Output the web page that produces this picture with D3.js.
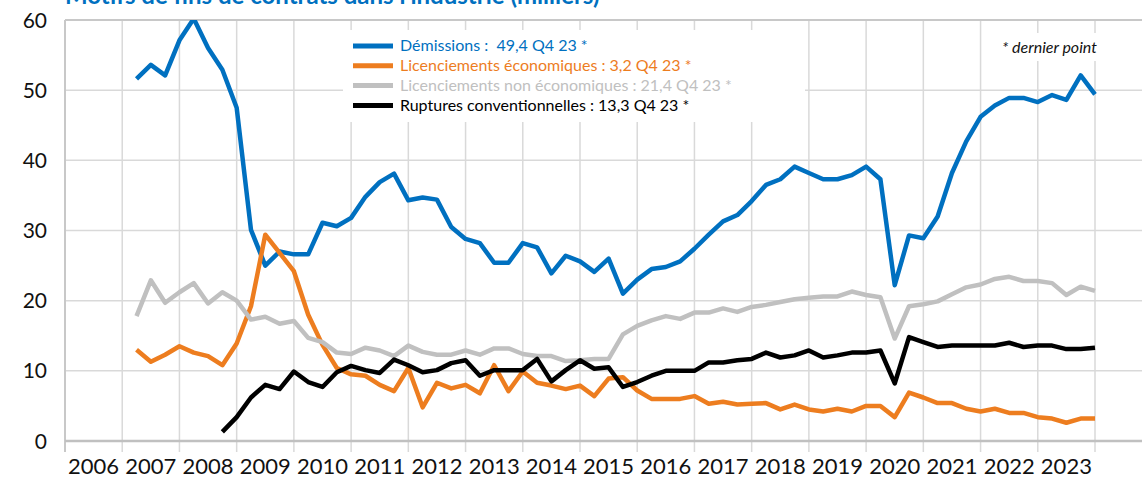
<!DOCTYPE html>
<html lang="fr">
  <head>
    <meta charset="utf-8">
    <title>Motifs de fins de contrats dans l'industrie</title>
    <script src="https://d3js.org/d3.v7.min.js"></script>
    <style type="text/css">
body,html{
    margin: 0;
    padding: 0;
    background: #fff;
    font-family: "Lato", "Open Sans", sans-serif;
  }
  .grid line{
    stroke: #d9d9d9;
    stroke-width: 1.5px;
  }
  .series{
    fill: none;
    stroke-width: 4.5px;
    stroke-linejoin: round;
  }
    </style>
  </head>
  <body>
    <script type="text/javascript">

      var w = 1142;
      var h = 478;

      // axis geometry
      var margin = {top: 20, bottom: 37, left: 65, right: 47};

      var title = "Motifs de fins de contrats dans l'industrie (milliers)";

      var years = d3.range(2006, 2024);     // x tick labels
      var yTicks = [0, 10, 20, 30, 40, 50, 60];
      var firstYear = 2007;                  // data starts 2007 Q1

      var names = [
        "Démissions :  49,4 Q4 23 *",
        "Licenciements économiques : 3,2 Q4 23 *",
        "Licenciements non économiques : 21,4 Q4 23 *",
        "Ruptures conventionnelles : 13,3 Q4 23 *"
      ];
      var colors = ["#0070c0", "#ed7d1f", "#c0c0c0", "#000000"];
      var textColors = ["#0070c0", "#ed7d1f", "#c0c0c0", "#000000"];

      // quarterly values, 2007 Q1 -> 2023 Q4
      var demissions = [
        51.6, 53.6, 52.1, 57.1,  60.2, 56.0, 52.9, 47.5,
        30.1, 25.0, 27.0, 26.6,  26.6, 31.1, 30.6, 31.8,
        34.8, 36.9, 38.1, 34.3,  34.7, 34.4, 30.5, 28.8,
        28.2, 25.4, 25.4, 28.2,  27.6, 23.9, 26.4, 25.6,
        24.1, 26.0, 21.0, 23.0,  24.5, 24.8, 25.6, 27.4,
        29.4, 31.3, 32.2, 34.2,  36.5, 37.3, 39.1, 38.2,
        37.3, 37.3, 37.9, 39.1,  37.3, 22.2, 29.3, 28.9,
        32.0, 38.2, 42.7, 46.2,  47.8, 48.9, 48.9, 48.3,
        49.3, 48.6, 52.1, 49.4
      ];
      var licEco = [
        13.0, 11.3, 12.3, 13.5,  12.6, 12.1, 10.8, 13.9,
        19.2, 29.4, 26.8, 24.2,  18.0, 13.7, 10.4, 9.5,
        9.3, 8.0, 7.1, 10.4,     4.8, 8.3, 7.5, 8.0,
        6.8, 10.8, 7.1, 9.9,     8.3, 7.9, 7.4, 7.9,
        6.4, 8.9, 9.1, 7.2,      6.0, 6.0, 6.0, 6.4,
        5.3, 5.6, 5.2, 5.3,      5.4, 4.5, 5.2, 4.5,
        4.2, 4.6, 4.2, 5.0,      5.0, 3.4, 6.9, 6.2,
        5.4, 5.4, 4.6, 4.2,      4.6, 4.0, 4.0, 3.4,
        3.2, 2.6, 3.2, 3.2
      ];
      var licNonEco = [
        17.8, 22.9, 19.7, 21.2,  22.5, 19.6, 21.2, 20.0,
        17.3, 17.7, 16.7, 17.1,  14.7, 14.1, 12.6, 12.4,
        13.3, 12.9, 12.1, 13.6,  12.7, 12.3, 12.3, 12.9,
        12.3, 13.2, 13.2, 12.4,  12.1, 12.1, 11.4, 11.5,
        11.7, 11.7, 15.2, 16.4,  17.2, 17.8, 17.4, 18.3,
        18.3, 18.9, 18.4, 19.1,  19.4, 19.8, 20.2, 20.4,
        20.6, 20.6, 21.3, 20.8,  20.5, 14.6, 19.2, 19.5,
        19.9, 20.9, 21.9, 22.3,  23.1, 23.4, 22.8, 22.8,
        22.5, 20.8, 22.0, 21.4
      ];
      var ruptures = [
        null, null, null, null,  null, null, 1.3, 3.4,
        6.2, 8.0, 7.4, 9.9,      8.4, 7.7, 9.8, 10.7,
        10.1, 9.7, 11.6, 10.8,   9.8, 10.1, 11.1, 11.5,
        9.3, 10.1, 10.1, 10.1,   11.7, 8.5, 10.1, 11.5,
        10.3, 10.5, 7.7, 8.4,    9.3, 10.0, 10.0, 10.0,
        11.2, 11.2, 11.5, 11.7,  12.6, 11.9, 12.2, 12.9,
        11.9, 12.2, 12.6, 12.6,  12.9, 8.2, 14.8, 14.1,
        13.4, 13.6, 13.6, 13.6,  13.6, 14.0, 13.4, 13.6,
        13.6, 13.1, 13.1, 13.3
      ];

      var allSeries = [demissions, licEco, licNonEco, ruptures];

      var svg = d3.select("body")
        .append("svg")
        .attr("width", w)
        .attr("height", h)
        .style("display", "block");

      svg.append("rect").attr("width", w).attr("height", h).attr("fill", "#fff");

      var x = d3.scaleLinear()
        .domain([2006, 2024])
        .range([margin.left, w - margin.right]);

      var y = d3.scaleLinear()
        .domain([0, 60])
        .range([h - margin.bottom, margin.top]);

      // each quarter plotted at the end of its period
      function tq(i){ return firstYear + (i + 1) / 4; }

      // gridlines
      var grid = svg.append("g").attr("class", "grid");
      grid.selectAll(".hg")
        .data(yTicks.slice(1))
        .enter().append("line")
        .attr("x1", x(2006)).attr("x2", w)
        .attr("y1", function(d){ return y(d); })
        .attr("y2", function(d){ return y(d); });
      grid.selectAll(".vg")
        .data(d3.range(2007, 2025))
        .enter().append("line")
        .attr("x1", function(d){ return x(d); })
        .attr("x2", function(d){ return x(d); })
        .attr("y1", y(60)).attr("y2", y(0) + 11);

      // top line a bit darker
      svg.append("line")
        .attr("x1", x(2006)).attr("x2", w)
        .attr("y1", y(60)).attr("y2", y(60))
        .attr("stroke", "#c8c8c8").attr("stroke-width", 2);

      // left + bottom axis
      svg.append("line")
        .attr("x1", x(2006)).attr("x2", x(2006))
        .attr("y1", y(60)).attr("y2", y(0) + 11)
        .attr("stroke", "#c8c8c8").attr("stroke-width", 2);
      svg.append("line")
        .attr("x1", x(2006)).attr("x2", w)
        .attr("y1", y(0)).attr("y2", y(0))
        .attr("stroke", "#c0c0c0").attr("stroke-width", 2.5);

      // legend box (hides gridlines behind it)
      svg.append("rect")
        .attr("x", 343).attr("y", 30)
        .attr("width", 462).attr("height", 92)
        .attr("fill", "#fff");
      svg.append("rect")
        .attr("x", 984).attr("y", 33)
        .attr("width", 158).attr("height", 28)
        .attr("fill", "#fff");

      // y labels
      svg.append("g")
        .selectAll("text")
        .data(yTicks)
        .enter().append("text")
        .attr("x", 47)
        .attr("y", function(d){ return y(d); })
        .attr("dy", "0.36em")
        .attr("text-anchor", "end")
        .style("font-size", "21px")
        .style("fill", "#111")
        .text(function(d){ return d; });

      // x labels
      svg.append("g")
        .selectAll("text")
        .data(years)
        .enter().append("text")
        .attr("x", function(d){ return x(d + 0.5); })
        .attr("y", 474)
        .attr("text-anchor", "middle")
        .style("font-size", "22px")
        .style("fill", "#111")
        .text(function(d){ return d; });

      // lines
      svg.append("clipPath").attr("id", "plot")
        .append("rect")
        .attr("x", 0).attr("y", y(60))
        .attr("width", w).attr("height", y(0) - y(60) + 10);

      var line = d3.line()
        .defined(function(d){ return d != null; })
        .x(function(d, i){ return x(tq(i)); })
        .y(function(d){ return y(d); });

      svg.append("g")
        .attr("clip-path", "url(#plot)")
        .selectAll("path")
        .data(allSeries)
        .enter().append("path")
        .attr("class", "series")
        .attr("stroke", function(d, i){ return colors[i]; })
        .attr("d", line);

      // legend
      var leg = svg.append("g")
        .selectAll("g")
        .data(names)
        .enter().append("g")
        .attr("transform", function(d, i){ return "translate(353," + (46 + i * 19.8) + ")"; });

      leg.append("line")
        .attr("x1", 0).attr("x2", 40)
        .attr("stroke", function(d, i){ return colors[i]; })
        .attr("stroke-width", 5);

      leg.append("text")
        .attr("x", 47)
        .attr("dy", "0.34em")
        .style("font-size", "16px")
        .style("white-space", "pre")
        .style("fill", function(d, i){ return textColors[i]; })
        .text(function(d){ return d; });

      svg.append("text")
        .attr("x", 1002).attr("y", 53)
        .style("font-size", "16px")
        .style("font-style", "italic")
        .style("fill", "#111")
        .text("* dernier point");

      // title, mostly cut off at the top
      svg.append("text")
        .attr("x", 65).attr("y", 4)
        .style("font-size", "24px")
        .style("font-weight", "bold")
        .style("fill", "#0070c0")
        .text(title);

    </script>
  </body>
</html>
